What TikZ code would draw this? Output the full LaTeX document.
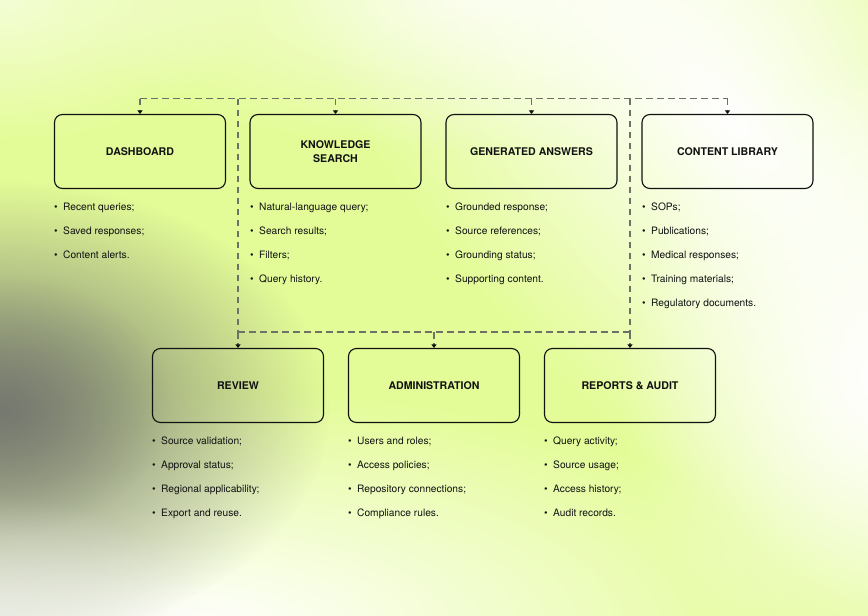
\documentclass[tikz,border=0pt]{standalone}
\usepackage{fontspec}
\setmainfont{TeX Gyre Heros}
\usetikzlibrary{arrows.meta,fadings,calc}
\definecolor{lime}{HTML}{E4FC98}
\definecolor{ink}{HTML}{111111}
\definecolor{busgrey}{HTML}{6E7166}
\definecolor{fog}{HTML}{767970}
\tikzfading[name=softfade, inner color=transparent!0, outer color=transparent!100]
\tikzset{
  box/.style={draw=ink, line width=1.1pt, rounded corners=8pt, minimum width=171pt, minimum height=74pt,
    inner sep=0pt, font=\fontsize{10.6}{13.5}\selectfont\bfseries, text=ink, align=center},
  item/.style={anchor=base west, inner sep=0pt, font=\fontsize{10.2}{12}\selectfont, text=ink},
  bus/.style={draw=busgrey, line width=1.7pt, dash pattern=on 6.5pt off 4.5pt, rounded corners=2pt},
  drop/.style={bus, -{Triangle[length=3.5pt,width=5pt,color=ink]}},
  blob/.style={path fading=softfade}
}
\newcommand\blist[4]{%
  \foreach \t [count=\i] in {#4} {\node[item] (#1-\i) at (#2, {#3+24*\i-24}) {\makebox[9pt][l]{\textbullet}\t};}}
\begin{document}
\begin{tikzpicture}[x=1pt,y=-1pt]
\useasboundingbox (0,0) rectangle (868,616);
\fill[lime] (0,0) rectangle (868,616);
\begin{scope}
  \clip (0,0) rectangle (868,616);
  \fill[white, opacity=.6, blob] (0,0) ellipse [x radius=260, y radius=140];
  \fill[white, opacity=.7, blob] (480,0) ellipse [x radius=420, y radius=150];
  \begin{scope}[transform canvas={rotate around={-48:(730,120)}}]
    \fill[white, blob] (730,120) ellipse [x radius=700, y radius=300];
  \end{scope}
  \fill[white, blob] (880,380) ellipse [x radius=260, y radius=320];
  \fill[white, blob] (200,630) ellipse [x radius=620, y radius=240];
  \fill[fog, blob] (0,410) ellipse [x radius=330, y radius=230];
  \fill[fog, opacity=.6, blob] (0,405) ellipse [x radius=170, y radius=130];
  \fill[white!92!black, opacity=.7, blob] (0,616) ellipse [x radius=200, y radius=120];
\end{scope}

\node[box] (dash) at (140,151.5) {DASHBOARD};
\node[box] (know) at (335.5,151.5) {KNOWLEDGE\\SEARCH};
\node[box] (gen) at (531.5,151.5) {GENERATED ANSWERS};
\node[box] (lib) at (727.5,151.5) {CONTENT LIBRARY};
\node[box] (rev) at (238,385.5) {REVIEW};
\node[box] (adm) at (434,385.5) {ADMINISTRATION};
\node[box] (rep) at (630,385.5) {REPORTS \& AUDIT};

\coordinate (ta) at (140,98.5);
\coordinate (tb) at (238,98.5);
\coordinate (tc) at (335.5,98.5);
\coordinate (td) at (531.5,98.5);
\coordinate (te) at (630,98.5);
\coordinate (tf) at (727.5,98.5);
\coordinate (ma) at (238,332);
\coordinate (mb) at (434,332);
\coordinate (mc) at (630,332);

\draw[bus] (ta) -- (tf);
\draw[bus] (tb) -- (ma);
\draw[bus] (te) -- (mc);
\draw[bus] (ma) -- (mc);
\draw[drop] (ta) -- (dash);
\draw[drop] (tc) -- (know);
\draw[drop] (td) -- (gen);
\draw[drop] (tf) -- (lib);
\draw[drop] (ma) -- (rev);
\draw[drop] (mb) -- (adm);
\draw[drop] (mc) -- (rep);

\blist{dl}{54}{210}{Recent queries;,Saved responses;,Content alerts.}
\blist{kl}{250}{210}{Natural-language query;,Search results;,Filters;,Query history.}
\blist{gl}{446}{210}{Grounded response;,Source references;,Grounding status;,Supporting content.}
\blist{cl}{642}{210}{SOPs;,Publications;,Medical responses;,Training materials;,Regulatory documents.}
\blist{rl}{152}{444}{Source validation;,Approval status;,Regional applicability;,Export and reuse.}
\blist{al}{348}{444}{Users and roles;,Access policies;,Repository connections;,Compliance rules.}
\blist{pl}{544}{444}{Query activity;,Source usage;,Access history;,Audit records.}
\end{tikzpicture}
\end{document}
